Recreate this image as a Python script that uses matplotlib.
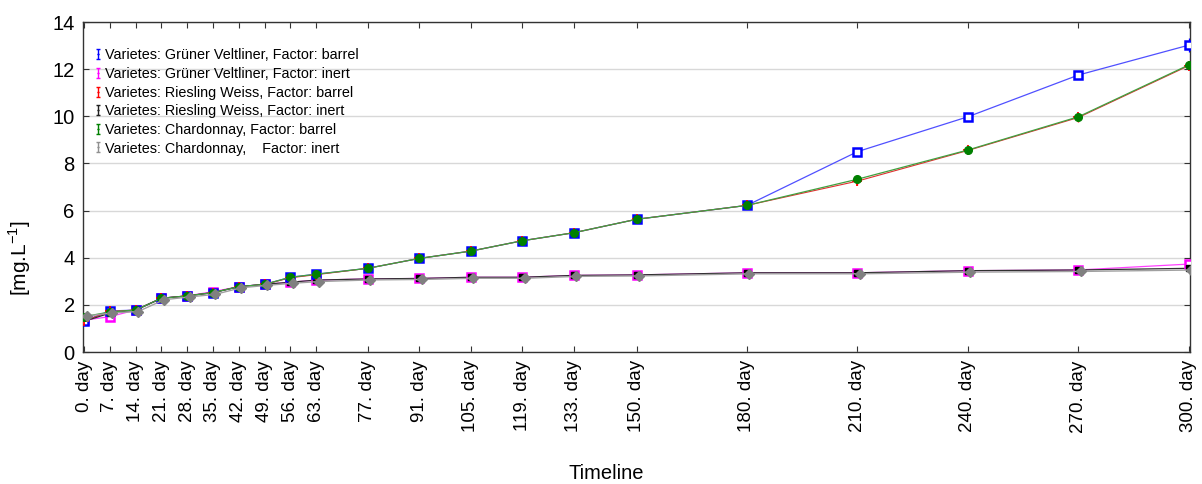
import matplotlib
matplotlib.use("Agg")
import matplotlib.pyplot as plt
from matplotlib.lines import Line2D
from matplotlib.path import Path
import matplotlib.transforms as mtransforms

plt.rcParams['font.family'] = ['Liberation Sans', 'DejaVu Sans']

days = [0, 7, 14, 21, 28, 35, 42, 49, 56, 63, 77, 91, 105, 119, 133, 150, 180, 210, 240, 270, 300]
tick_labels = [f"{d}. day" for d in days]

gv_barrel = [1.32, 1.74, 1.78, 2.28, 2.38, 2.52, 2.77, 2.87, 3.17, 3.30, 3.55, 3.97, 4.28, 4.72, 5.06, 5.63, 6.22, 8.50, 9.98, 11.75, 13.02]
gv_inert = [1.35, 1.50, 1.78, 2.28, 2.38, 2.56, 2.77, 2.87, 2.96, 3.05, 3.10, 3.12, 3.17, 3.17, 3.25, 3.27, 3.36, 3.36, 3.45, 3.48, 3.73]
rw_barrel = [1.32, 1.72, 1.78, 2.28, 2.38, 2.52, 2.77, 2.87, 3.15, 3.28, 3.55, 3.97, 4.28, 4.72, 5.06, 5.63, 6.22, 7.25, 8.55, 9.95, 12.15]
rw_inert = [1.30, 1.65, 1.78, 2.28, 2.38, 2.52, 2.77, 2.87, 2.96, 3.05, 3.10, 3.12, 3.17, 3.17, 3.25, 3.27, 3.36, 3.36, 3.45, 3.48, 3.55]
ch_barrel = [1.50, 1.70, 1.78, 2.28, 2.38, 2.52, 2.77, 2.87, 3.17, 3.30, 3.55, 3.97, 4.28, 4.72, 5.06, 5.63, 6.22, 7.33, 8.57, 9.98, 12.18]
ch_inert = [1.57, 1.70, 1.76, 2.26, 2.38, 2.49, 2.77, 2.87, 2.96, 3.03, 3.10, 3.12, 3.17, 3.17, 3.25, 3.27, 3.36, 3.36, 3.43, 3.46, 3.52]

gv_barrel_err = [0.05] * 20 + [0.30]
rw_barrel_err = [0.0] * 17 + [0.15, 0.05, 0.20, 0.05]

legend_labels = [
    "Varietes: Grüner Veltliner, Factor: barrel",
    "Varietes: Grüner Veltliner, Factor: inert",
    "Varietes: Riesling Weiss, Factor: barrel",
    "Varietes: Riesling Weiss, Factor: inert",
    "Varietes: Chardonnay, Factor: barrel",
    "Varietes: Chardonnay,    Factor: inert",
]

fig = plt.figure(figsize=(12.02, 4.84), dpi=100)
ax = fig.add_axes([83 / 1202, 1 - 352 / 484, (1190 - 83) / 1202, (352 - 22) / 484])

ax.set_ylim(0, 14)
ax.set_xlim(-0.3, 300.3)
ax.set_yticks(range(0, 15, 2))
ax.grid(axis='y', color='#d8d8d8', linewidth=1.0)
ax.set_axisbelow(True)

# barrel series
ax.plot(days, gv_barrel, color='#5050ff', lw=0.9, zorder=3)
ax.errorbar(days, gv_barrel, yerr=gv_barrel_err, fmt='s', ms=5.6, mfc='white',
            mec='#0000ff', mew=1.8, ecolor='#0000ff', elinewidth=0.9, capsize=0, zorder=4)

# inert series
ax.plot(days, gv_inert, color='#ff40ff', lw=0.9, zorder=3)
ax.plot(days, gv_inert, 's', ms=5.6, mfc='white', mec='#ff00ff', mew=1.8, zorder=4)

ax.plot(days, rw_barrel, color='#e03030', lw=0.8, zorder=3)
ax.errorbar(days, rw_barrel, yerr=rw_barrel_err, fmt='+', ms=6.5, mec='#ff0000', mew=1.3,
            ecolor='#ff0000', elinewidth=1.0, capsize=0, zorder=4)

ax.plot(days, rw_inert, color='#303030', lw=0.9, zorder=3)
ax.plot(days, rw_inert, 's', ms=5, color='black', zorder=4)

ax.plot(days, ch_barrel, color='#40a040', lw=0.9, zorder=5)
ax.plot(days, ch_barrel, 'o', ms=5.5, color='#008000', zorder=5)

shift = mtransforms.offset_copy(ax.transData, fig=fig, x=2.5, y=-1.0, units='dots')
ax.plot(days, ch_inert, color='#a0a0a0', lw=1.0, zorder=5, transform=shift)
ax.plot(days, ch_inert, 'D', ms=5.2, color='#808080', zorder=6, transform=shift)

ax.set_xticks(days)
ax.set_xticklabels(tick_labels, rotation=90, fontsize=13.5)
ax.tick_params(axis='y', labelsize=14.5)
ax.tick_params(direction='in', top=True, right=True, length=4, width=0.8, colors='#333333',
               labelcolor='black', pad=6)

for s in ax.spines.values():
    s.set_color('#333333')
    s.set_linewidth(1.0)

ax.set_xlabel("Timeline", fontsize=14.5)
ax.xaxis.set_label_coords(0.473, -0.34)
ax.set_ylabel("[mg.L$^{\\mathregular{-1}}$]", fontsize=15)
ax.yaxis.set_label_coords(-0.045, 0.285)

# legend handles drawn as small error-bar glyphs
bar_path = Path([(-0.5, 1), (0.5, 1), (0, 1), (0, -1), (-0.5, -1), (0.5, -1), (-0.3, 0), (0.3, 0)],
                [Path.MOVETO, Path.LINETO, Path.MOVETO, Path.LINETO, Path.MOVETO, Path.LINETO,
                 Path.MOVETO, Path.LINETO])
legend_colors = ['#0000ff', '#ff00ff', '#ff0000', '#202020', '#008000', '#909090']
handles = [Line2D([], [], linestyle='none', marker=bar_path, ms=6.5, mew=1.0, color=c)
           for c in legend_colors]
ax.legend(handles, legend_labels, loc='upper left', bbox_to_anchor=(0.0, 0.955),
          frameon=False, fontsize=10.4, handlelength=0.45, handletextpad=0.3,
          labelspacing=0.32, borderaxespad=0.4)

fig.savefig("out.png", dpi=100)
